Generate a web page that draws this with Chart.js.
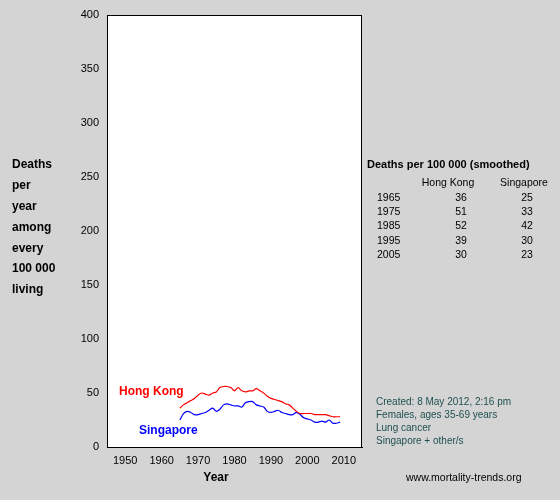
<!DOCTYPE html>
<html><head><meta charset="utf-8">
<script src="https://cdn.jsdelivr.net/npm/chart.js@4"></script>
<style>html,body{margin:0;padding:0;background:#d4d4d4}</style>
</head><body>
<canvas id="c" width="560" height="500" style="width:560px;height:500px"></canvas>
<script>
const years = Array.from({length:45},(_,i)=>1965+i);
const hongKong = [36,39,41,43,45,48,50,49,48,50,51,55,56,56,55,52,55,52,51,52,52,54,52,50,47,45,44,43,42,40,39,36,33,31,31,31,31,30,30,30,30,29,28,28,28];
const singapore = [25,31,33,32,30,30,31,32,34,36,33,35,39,40,39,38,38,37,41,42,42,39,38,37,33,32,33,34,32,31,30,30,32,30,27,26,25,23,23,24,23,25,22,22,23];
const xTicks = [1950,1960,1970,1980,1990,2000,2010];
const tableYears = ['1965','1975','1985','1995','2005'];
const tableHK = ['36','51','52','39','30'];
const tableSG = ['25','33','42','30','23'];
const yLabel = ['Deaths','per','year','among','every','100 000','living'];
const notes = ['Created: 8 May 2012, 2:16 pm','Females, ages 35-69 years','Lung cancer','Singapore + other/s'];

const deco = {
  id:'deco',
  beforeDraw(c){const {ctx,chartArea:a}=c;ctx.save();ctx.fillStyle='#d4d4d4';ctx.fillRect(0,0,560,500);
    ctx.fillStyle='#fff';ctx.fillRect(a.left,a.top,a.right-a.left,a.bottom-a.top);
    ctx.strokeStyle='#000';ctx.lineWidth=1;ctx.strokeRect(a.left+0.5,a.top+0.5,a.right-a.left-1,a.bottom-a.top);ctx.restore();},
  afterDraw(c){const ctx=c.ctx;ctx.save();ctx.textBaseline='middle';
    ctx.fillStyle='#000';ctx.font='bold 12px Arial, "Liberation Sans"';ctx.textAlign='left';
    yLabel.forEach((t,i)=>ctx.fillText(t,12,165+i*20.8));
    ctx.fillStyle='#f00';ctx.fillText('Hong Kong',119,392);
    ctx.fillStyle='#00f';ctx.fillText('Singapore',139,431);
    ctx.fillStyle='#000';ctx.textAlign='center';ctx.fillText('Year',216,478);
    ctx.textAlign='left';ctx.font='bold 11px Arial, "Liberation Sans"';ctx.fillText('Deaths per 100 000 (smoothed)',367,165);
    ctx.font='10.5px Arial, "Liberation Sans"';
    ctx.textAlign='center';ctx.fillText('Hong Kong',448,183);ctx.fillText('Singapore',524,183);
    tableYears.forEach((y,i)=>{const yy=198+i*14.3;ctx.textAlign='left';ctx.fillText(y,377,yy);
      ctx.textAlign='center';ctx.fillText(tableHK[i],461,yy);ctx.fillText(tableSG[i],527,yy);});
    ctx.textAlign='left';ctx.fillStyle='#1f4f4f';ctx.font='10px Arial, "Liberation Sans"';
    notes.forEach((t,i)=>ctx.fillText(t,376,402+i*13));
    ctx.fillStyle='#000';ctx.font='10.5px Arial, "Liberation Sans"';ctx.fillText('www.mortality-trends.org',406,478);
    ctx.restore();}
};
new Chart(document.getElementById('c'),{
  type:'line',
  data:{datasets:[
    {data:years.map((y,i)=>({x:y,y:hongKong[i]})),borderColor:'#f00',borderWidth:1.2,pointRadius:0,tension:0.3},
    {data:years.map((y,i)=>({x:y,y:singapore[i]})),borderColor:'#00f',borderWidth:1.2,pointRadius:0,tension:0.3}]},
  options:{responsive:false,animation:false,events:[],
    layout:{padding:{left:0,right:198,top:15,bottom:0}},
    plugins:{legend:{display:false},tooltip:{enabled:false}},
    scales:{
      x:{type:'linear',min:1945,max:2015,afterFit(s){s.height=53;},
        afterBuildTicks(s){s.ticks=xTicks.map(v=>({value:v}));},
        grid:{display:false,drawTicks:true,tickLength:5,tickColor:'#000'},border:{color:'#000'},
        ticks:{color:'#000',font:{family:'Arial',size:11},padding:2,maxRotation:0,callback:v=>String(v)}},
      y:{min:0,max:400,afterFit(s){s.width=107;},
        grid:{display:false,drawTicks:true,tickLength:5,tickColor:'#000'},border:{color:'#000'},
        ticks:{stepSize:50,color:'#000',font:{family:'Arial',size:11},padding:3}}
    }},
  plugins:[deco]
});
</script></body></html>
